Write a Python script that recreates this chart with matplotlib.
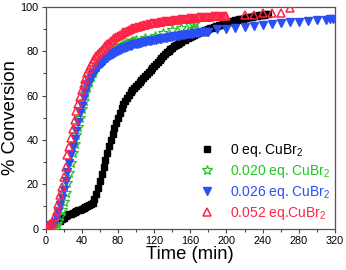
import matplotlib
matplotlib.use("Agg")
import matplotlib.pyplot as plt
from matplotlib.ticker import MultipleLocator

plt.rcParams["font.family"] = ["Liberation Sans", "DejaVu Sans"]
plt.rcParams["mathtext.default"] = "regular"

t_black = list(range(16, 247, 2))
c_black = [3.5, 4.3, 5, 5.5, 6, 6.4, 6.8, 7.2, 7.5, 7.9,
           8.2, 8.6, 8.9, 9.3, 9.6, 10, 10.5, 11, 11.8, 13.2,
           15.5, 18.3, 21.3, 24.5, 27.8, 31, 34.2, 37.2, 40, 42.7,
           45.3, 47.8, 50, 52.2, 54.2, 56, 57.6, 59, 60.3, 61.5,
           62.5, 63.5, 64.4, 65.3, 66.2, 67.1, 68, 68.9, 69.8, 70.7,
           71.6, 72.5, 73.4, 74.3, 75.2, 76.1, 77, 77.8, 78.6, 79.4,
           80.1, 80.8, 81.5, 82.1, 82.7, 83.3, 83.8, 84.3, 84.8, 85.2,
           85.7, 86.1, 86.5, 86.9, 87.3, 87.7, 88, 88.4, 88.7, 89.1,
           89.4, 89.7, 90, 90.3, 90.6, 90.9, 91.2, 91.5, 91.8, 92,
           92.3, 92.5, 92.8, 93, 93.3, 93.5, 93.7, 93.9, 94.1, 94.3,
           94.5, 94.7, 94.9, 95.1, 95.3, 95.4, 95.6, 95.7, 95.9, 96,
           96.2, 96.3, 96.4, 96.5, 96.6, 96.7]

t_green = list(range(6, 101, 2)) + [110, 121, 130, 140, 150, 160, 163, 165]
c_green = [0.5, 0.8, 1.2, 2, 3.5, 5.5, 8.5, 12, 16, 20.5,
           25, 29.5, 34, 38, 42, 46, 50, 54, 57.5, 61,
           63.8, 66.2, 68.3, 70, 71.5, 72.8, 74, 75, 75.9, 76.7,
           77.4, 78.1, 78.8, 79.4, 80, 80.5, 81, 81.5, 81.9, 82.3,
           82.7, 83.1, 83.5, 83.8, 84.1, 84.4, 84.7, 85,
           86, 87, 88, 89.5, 90.5, 91.8, 92.3, 92.5]

t_blue = list(range(2, 181, 2)) + [190, 200, 210, 220, 230, 240, 250, 260, 270,
                                    280, 290, 300, 310, 315, 318]
c_blue = [0.8, 1, 1.5, 2.2, 3.2, 5, 7.5, 10.5, 14, 17.5,
          21.5, 25.5, 29.5, 33.5, 37, 40.5, 44, 48, 52, 55.5,
          59, 61.8, 64.2, 66.3, 68, 69.5, 70.8, 72, 73, 74,
          74.8, 75.6, 76.3, 77, 77.6, 78.2, 78.7, 79.2, 79.7, 80.1,
          80.5, 80.9, 81.3, 81.6, 81.9, 82.2, 82.5, 82.8, 83, 83.2,
          83.4, 83.6, 83.8, 84, 84.2, 84.4, 84.6, 84.7, 84.9, 85,
          85.2, 85.3, 85.5, 85.6, 85.8, 85.9, 86.1, 86.2, 86.4, 86.5,
          86.6, 86.8, 86.9, 87, 87.2, 87.3, 87.4, 87.6, 87.7, 87.8,
          87.9, 88, 88.1, 88.2, 88.3, 88.4, 88.5, 88.6, 88.7, 88.8,
          90, 90.2, 90.6, 91.1, 91.5, 91.9, 92.3, 92.6, 93, 93.3,
          93.6, 93.9, 94.2, 94.4, 94.5]

t_red = list(range(2, 201, 2)) + [220, 230, 240, 250, 260, 270]
c_red = [0.8, 1.5, 2, 3.2, 5.5, 8, 11, 15, 19, 23.5,
         28, 33, 37, 41, 45, 49, 53, 56, 59.5, 62.5,
         65, 67.5, 70, 72, 73.7, 75.2, 76.5, 77.7, 78.7, 79.7,
         80.6, 81.5, 82.3, 83.1, 83.8, 84.5, 85.2, 85.8, 86.4, 86.9,
         87.4, 87.9, 88.4, 88.8, 89.2, 89.6, 90, 90.3, 90.6, 90.9,
         91.1, 91.3, 91.5, 91.7, 91.9, 92.1, 92.3, 92.5, 92.6, 92.8,
         92.9, 93.1, 93.2, 93.3, 93.4, 93.5, 93.6, 93.7, 93.8, 93.9,
         94, 94.1, 94.2, 94.3, 94.4, 94.5, 94.6, 94.7, 94.8, 94.9,
         95, 95, 95.1, 95.2, 95.3, 95.3, 95.4, 95.5, 95.5, 95.6,
         95.6, 95.7, 95.7, 95.8, 95.8, 95.9, 95.9, 95.9, 96, 96,
         96.2, 96.5, 97, 97, 97.2, 99.3]

labels = ["0 eq. CuBr$_2$", "0.020 eq. CuBr$_2$", "0.026 eq. CuBr$_2$", "0.052 eq.CuBr$_2$"]
colors = ["#000000", "#22c322", "#2a4ff5", "#ff2346"]

fig = plt.figure(figsize=(3.46, 2.70), dpi=100)
ax = fig.add_axes([0.132, 0.153, 0.836, 0.822])

h0, = ax.plot(t_black, c_black, ls="none", marker="s", ms=5.0, color=colors[0],
              mec=colors[0], zorder=3)
h1, = ax.plot(t_green, c_green, ls="none", marker="*", ms=7.2, mfc="none",
              mec=colors[1], mew=0.9, zorder=4)
h2, = ax.plot(t_blue, c_blue, ls="none", marker="v", ms=6.2, color=colors[2],
              mec=colors[2], zorder=5)
h3, = ax.plot(t_red, c_red, ls="none", marker="^", ms=6.0, mfc="none",
              mec=colors[3], mew=1.1, zorder=6)

ax.set_xlim(0, 320)
ax.set_ylim(0, 100)
ax.xaxis.set_major_locator(MultipleLocator(40))
ax.xaxis.set_minor_locator(MultipleLocator(20))
ax.yaxis.set_major_locator(MultipleLocator(20))
ax.yaxis.set_minor_locator(MultipleLocator(10))
ax.tick_params(which="both", direction="out", top=False, right=False,
               labelsize=7.8, color="#444444", pad=2)
ax.tick_params(which="major", length=3, width=0.8)
ax.tick_params(which="minor", length=2, width=0.8)
for s in ax.spines.values():
    s.set_color("#555555")
    s.set_linewidth(0.9)

ax.set_xlabel("Time (min)", fontsize=13.3, labelpad=0)
ax.set_ylabel("% Conversion", fontsize=13.3, labelpad=1)

leg = ax.legend([h0, h1, h2, h3], labels, loc="lower left",
                bbox_to_anchor=(0.533, 0.03), frameon=False, fontsize=10,
                handlelength=1.0, handletextpad=1.15, labelspacing=0.3,
                borderpad=0, borderaxespad=0)
for txt, c in zip(leg.get_texts(), colors):
    txt.set_color(c)

fig.savefig("out.png", dpi=100)
